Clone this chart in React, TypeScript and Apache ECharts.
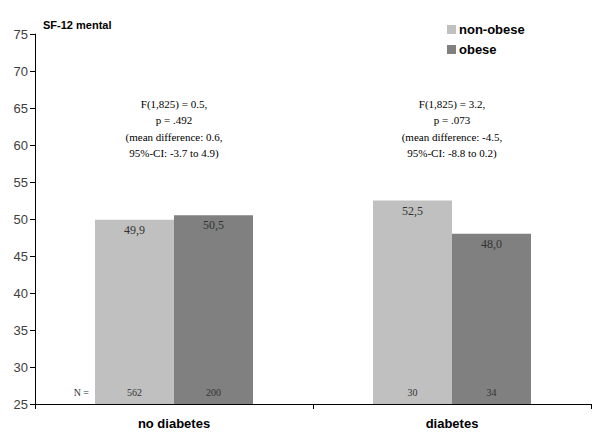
import React, { useEffect, useRef } from "react";
import * as echarts from "echarts";

const categories = ["no diabetes", "diabetes"];
const nonObese = [49.9, 52.5];
const obese = [50.5, 48.0];
const nNonObese = [562, 30];
const nObese = [200, 34];
const annotations = [
  ["F(1,825) = 0.5,", "p = .492", "(mean difference: 0.6,", "95%-CI: -3.7 to 4.9)"],
  ["F(1,825) = 3.2,", "p = .073", "(mean difference: -4.5,", "95%-CI: -8.8 to 0.2)"],
];
const yTicks = { min: 25, max: 75, interval: 5 };

const serif = "'Liberation Serif', 'Times New Roman', serif";
const sans = "'Liberation Sans', Arial, sans-serif";

export default function App() {
  const ref = useRef<HTMLDivElement>(null);
  useEffect(() => {
    const chart = echarts.init(ref.current!, null, { renderer: "svg" });
    const BW = 79;
    const fmt = (v: number) => v.toFixed(1).replace(".", ",");
    const nData: any[] = [];
    categories.forEach((_, i) => {
      nData.push([i, yTicks.min, nNonObese[i], 0]);
      nData.push([i, yTicks.min, nObese[i], 1]);
    });
    const annData = categories.map((_, i) => [i, 62.5, i]);
    chart.setOption({
      animation: false,
      backgroundColor: "#ffffff",
      grid: { left: 35, right: 9, top: 34, bottom: 37 },
      legend: {
        orient: "vertical",
        left: 442,
        top: 18,
        itemWidth: 9,
        itemHeight: 9,
        itemGap: 7,
        icon: "rect",
        data: ["non-obese", "obese"],
        textStyle: { fontFamily: sans, fontWeight: "bold", fontSize: 13, color: "#000", padding: [0, 0, 0, -2] },
      },
      title: {
        text: "SF-12 mental",
        left: 38,
        top: 14,
        textStyle: { fontFamily: sans, fontWeight: "bold", fontSize: 11, color: "#000" },
      },
      xAxis: {
        type: "category",
        data: categories,
        axisLine: { lineStyle: { color: "#000", width: 1 } },
        axisTick: { show: true, length: 5, lineStyle: { color: "#000" } },
        axisLabel: { fontFamily: sans, fontWeight: "bold", fontSize: 13, color: "#000", margin: 13 },
      },
      yAxis: {
        type: "value",
        min: yTicks.min,
        max: yTicks.max,
        interval: yTicks.interval,
        splitLine: { show: false },
        axisLine: { show: true, lineStyle: { color: "#000", width: 1 } },
        axisTick: { show: true, length: 5, lineStyle: { color: "#000" } },
        axisLabel: { fontFamily: sans, fontSize: 13, color: "#404040", margin: 7 },
      },
      series: [
        {
          name: "non-obese",
          type: "bar",
          data: nonObese,
          barWidth: BW,
          barGap: "0%",
          itemStyle: { color: "#c0c0c0" },
          label: {
            show: true,
            position: "insideTop",
            distance: 4,
            formatter: (p: any) => fmt(p.value),
            fontFamily: serif,
            fontSize: 12,
            color: "#333",
          },
        },
        {
          name: "obese",
          type: "bar",
          data: obese,
          barWidth: BW,
          barGap: "0%",
          itemStyle: { color: "#808080" },
          label: {
            show: true,
            position: "insideTop",
            distance: 4,
            formatter: (p: any) => fmt(p.value),
            fontFamily: serif,
            fontSize: 12,
            color: "#333",
          },
        },
        {
          type: "custom",
          data: nData,
          encode: { x: 0, y: 1 },
          silent: true,
          z: 5,
          renderItem: (params: any, api: any) => {
            const p = api.coord([api.value(0), api.value(1)]);
            const side = api.value(3);
            const x = p[0] + (side === 0 ? -BW / 2 : BW / 2);
            const children: any[] = [
              {
                type: "text",
                x,
                y: p[1] - 12,
                style: {
                  text: String(api.value(2)),
                  textAlign: "center",
                  textVerticalAlign: "middle",
                  fontFamily: serif,
                  fontSize: 10,
                  fill: "#333",
                },
              },
            ];
            if (params.dataIndex === 0) {
              children.push({
                type: "text",
                x: p[0] - BW - 6,
                y: p[1] - 12,
                style: {
                  text: "N =",
                  textAlign: "right",
                  textVerticalAlign: "middle",
                  fontFamily: serif,
                  fontSize: 10,
                  fill: "#333",
                },
              });
            }
            return { type: "group", children };
          },
        },
        {
          type: "custom",
          data: annData,
          encode: { x: 0, y: 1 },
          silent: true,
          renderItem: (params: any, api: any) => {
            const p = api.coord([api.value(0), api.value(1)]);
            const lines = annotations[api.value(2)];
            return {
              type: "text",
              x: p[0],
              y: p[1] - 31,
              style: {
                text: lines.join("\n"),
                textAlign: "center",
                textVerticalAlign: "top",
                fontFamily: serif,
                fontSize: 11,
                lineHeight: 16.5,
                fill: "#000",
              },
            };
          },
        },
      ],
    });
    return () => chart.dispose();
  }, []);
  return (
    <div
      ref={ref}
      style={{ position: "fixed", left: 0, top: 0, width: 600, height: 441, background: "#fff" }}
    />
  );
}
